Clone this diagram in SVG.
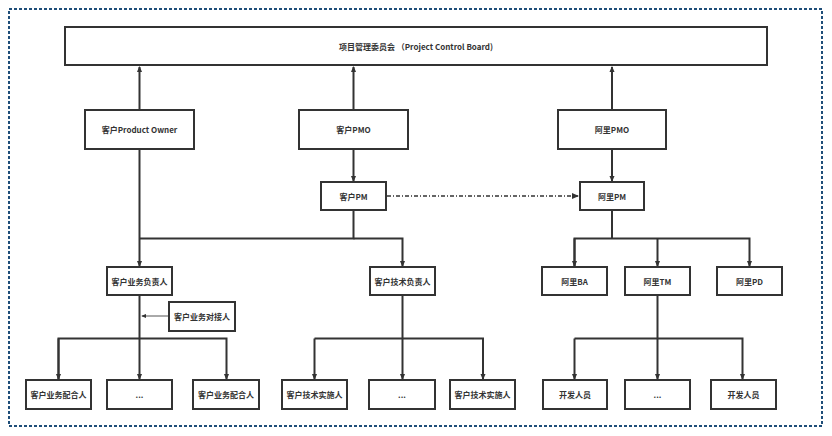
<svg xmlns="http://www.w3.org/2000/svg" width="832" height="436" viewBox="0 0 832 436">
<style>
.n{fill:#fff;stroke:#333;stroke-width:2}
.t{font-family:"Noto Sans CJK SC","Noto Sans",sans-serif;font-size:8px;font-weight:bold;fill:#333;text-anchor:middle;dominant-baseline:central}
.c{fill:none;stroke:#333;stroke-width:2}
.thin{fill:none;stroke:#555;stroke-width:1}
</style>
<defs>
<marker id="a" viewBox="0 0 6 6" refX="5" refY="3" markerWidth="3.2" markerHeight="3.2" orient="auto" markerUnits="strokeWidth"><path d="M0,0.5 L6,3 L0,5.5 Z" fill="#333"/></marker>
<marker id="b" viewBox="0 0 6 6" refX="5" refY="3" markerWidth="5" markerHeight="5" orient="auto" markerUnits="strokeWidth"><path d="M0,0.5 L6,3 L0,5.5 Z" fill="#333"/></marker>
</defs>
<rect x="9" y="9" width="813" height="417" fill="none" stroke="#1f4e79" stroke-width="2" stroke-dasharray="3 2"/>
<g id="connectors">
<path class="c" d="M139.5 110 V67" marker-end="url(#a)"/>
<path class="c" d="M353.5 110 V67" marker-end="url(#a)"/>
<path class="c" d="M612 110 V67" marker-end="url(#a)"/>
<path class="c" d="M353.5 149 V181" marker-end="url(#a)"/>
<path class="c" d="M612 149 V181" marker-end="url(#a)"/>
<path fill="none" stroke="#333" stroke-width="1.5" stroke-dasharray="4 2 1 2" d="M387 196 H578" marker-end="url(#b)"/>
<path class="c" d="M139.5 149 V266" marker-end="url(#a)"/>
<path class="c" d="M353.5 210 V238.5 H139.5"/>
<path class="c" d="M353.5 238.5 H402.5 V266" marker-end="url(#a)"/>
<path class="c" d="M612 210 V238.5"/>
<path class="c" d="M574.5 266 V238.5 H749.5 V266" marker-end="url(#a)"/>
<path class="c" d="M657.5 238.5 V266" marker-end="url(#a)"/>
<path class="c" d="M574.5 238.5 V266" marker-end="url(#a)"/>
<path class="thin" d="M169 316 H142" marker-end="url(#b)"/>
<path class="c" d="M139.5 296 V379" marker-end="url(#a)"/>
<path class="c" d="M58.5 379 V338.5 H226.5 V379" marker-end="url(#a)"/>
<path class="c" d="M58.5 338.5 V379" marker-end="url(#a)"/>
<path class="c" d="M402.5 296 V379" marker-end="url(#a)"/>
<path class="c" d="M314.5 338.5 H483 V379" marker-end="url(#a)"/>
<path class="c" d="M314.5 338.5 V379" marker-end="url(#a)"/>
<path class="c" d="M657.5 296 V379" marker-end="url(#a)"/>
<path class="c" d="M574.5 338.5 H742.5 V379" marker-end="url(#a)"/>
<path class="c" d="M574.5 338.5 V379" marker-end="url(#a)"/>
</g>
<g id="pcb"><rect class="n" x="65" y="27" width="702" height="38"/><text class="t" x="416" y="46">项目管理委员会 （Project Control Board)</text></g>
<g id="po"><rect class="n" x="85" y="110" width="109" height="39"/><text class="t" x="139.5" y="129.5">客户Product Owner</text></g>
<g id="cpmo"><rect class="n" x="299" y="110" width="109" height="39"/><text class="t" x="353.5" y="129.5">客户PMO</text></g>
<g id="apmo"><rect class="n" x="558" y="110" width="108" height="39"/><text class="t" x="612" y="129.5">阿里PMO</text></g>
<g id="cpm"><rect class="n" x="321" y="182" width="65" height="28"/><text class="t" x="353.5" y="196">客户PM</text></g>
<g id="apm"><rect class="n" x="580" y="182" width="64" height="28"/><text class="t" x="612" y="196">阿里PM</text></g>
<g id="cbiz"><rect class="n" x="107" y="267" width="65" height="28"/><text class="t" x="139.5" y="281">客户业务负责人</text></g>
<g id="ctech"><rect class="n" x="370" y="267" width="65" height="28"/><text class="t" x="402.5" y="281">客户技术负责人</text></g>
<g id="aba"><rect class="n" x="542" y="267" width="65" height="28"/><text class="t" x="574.5" y="281">阿里BA</text></g>
<g id="atm"><rect class="n" x="625" y="267" width="65" height="28"/><text class="t" x="657.5" y="281">阿里TM</text></g>
<g id="apd"><rect class="n" x="717" y="267" width="65" height="28"/><text class="t" x="749.5" y="281">阿里PD</text></g>
<g id="cdock"><rect class="n" x="169" y="302" width="66" height="29"/><text class="t" x="202" y="316.5">客户业务对接人</text></g>
<g id="cb1"><rect class="n" x="26" y="380" width="65" height="29"/><text class="t" x="58.5" y="394.5">客户业务配合人</text></g>
<g id="cb2"><rect class="n" x="107" y="380" width="65" height="29"/><text class="t" x="139.5" y="394.5">...</text></g>
<g id="cb3"><rect class="n" x="193" y="380" width="66" height="29"/><text class="t" x="226" y="394.5">客户业务配合人</text></g>
<g id="ct1"><rect class="n" x="282" y="380" width="65" height="29"/><text class="t" x="314.5" y="394.5">客户技术实施人</text></g>
<g id="ct2"><rect class="n" x="369" y="380" width="66" height="29"/><text class="t" x="402" y="394.5">...</text></g>
<g id="ct3"><rect class="n" x="450" y="380" width="65" height="29"/><text class="t" x="482.5" y="394.5">客户技术实施人</text></g>
<g id="d1"><rect class="n" x="543" y="380" width="64" height="29"/><text class="t" x="575" y="394.5">开发人员</text></g>
<g id="d2"><rect class="n" x="625" y="380" width="65" height="29"/><text class="t" x="657.5" y="394.5">...</text></g>
<g id="d3"><rect class="n" x="711" y="380" width="65" height="29"/><text class="t" x="743.5" y="394.5">开发人员</text></g>
</svg>
